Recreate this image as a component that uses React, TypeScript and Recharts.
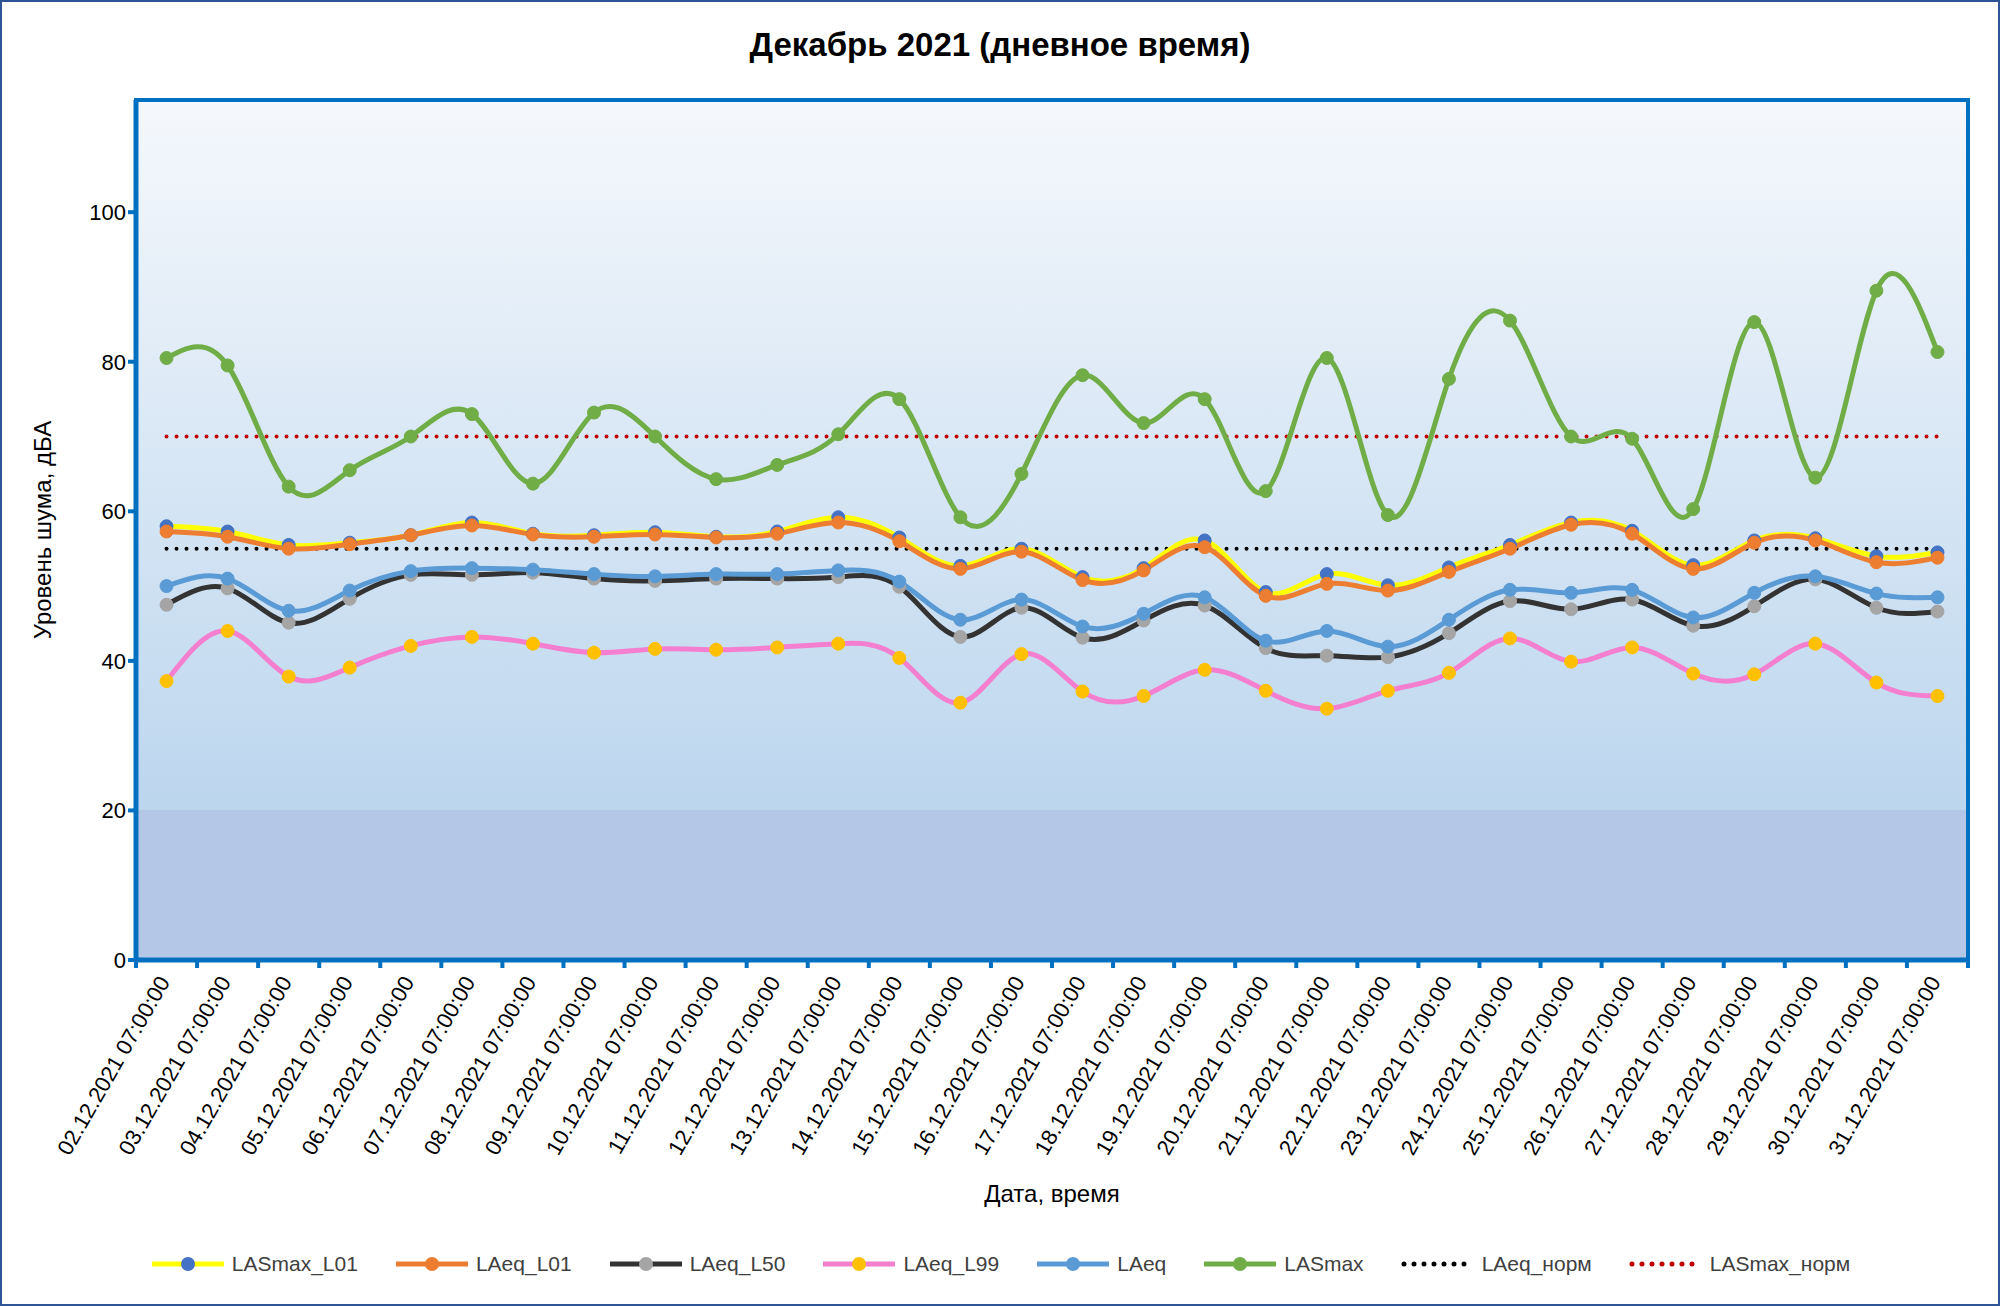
import React from "react";
import {
  ComposedChart, Line, XAxis, YAxis, CartesianGrid, ReferenceArea, Label,
} from "recharts";

const dates = [
  "02.12.2021", "03.12.2021", "04.12.2021", "05.12.2021", "06.12.2021", "07.12.2021",
  "08.12.2021", "09.12.2021", "10.12.2021", "11.12.2021", "12.12.2021", "13.12.2021",
  "14.12.2021", "15.12.2021", "16.12.2021", "17.12.2021", "18.12.2021", "19.12.2021",
  "20.12.2021", "21.12.2021", "22.12.2021", "23.12.2021", "24.12.2021", "25.12.2021",
  "26.12.2021", "27.12.2021", "28.12.2021", "29.12.2021", "30.12.2021", "31.12.2021",
].map((d) => d + " 07:00:00");

const lasmaxL01 = [58, 57.3, 55.5, 55.8, 56.8, 58.5, 57, 56.8, 57.2, 56.6, 57.3, 59.2, 56.5, 52.7, 55, 51.2, 52.4, 56.1, 49.2, 51.6, 50.1, 52.5, 55.5, 58.5, 57.4, 52.8, 56.1, 56.4, 54, 54.5];
const laeqL01 = [57.3, 56.6, 55, 55.6, 56.8, 58.1, 56.9, 56.6, 56.9, 56.5, 57, 58.5, 56, 52.3, 54.6, 50.8, 52.1, 55.2, 48.7, 50.3, 49.4, 51.9, 55, 58.2, 57, 52.3, 55.8, 56.1, 53.2, 53.8];
const laeqL50 = [47.5, 49.7, 45.1, 48.3, 51.5, 51.5, 51.8, 51, 50.7, 51, 51, 51.2, 49.9, 43.2, 47.1, 43.1, 45.4, 47.4, 41.7, 40.7, 40.5, 43.7, 48, 46.9, 48.2, 44.7, 47.3, 50.9, 47.1, 46.6];
const laeqL99 = [37.3, 44, 37.9, 39.1, 42, 43.2, 42.3, 41.1, 41.6, 41.5, 41.8, 42.3, 40.4, 34.4, 40.9, 35.9, 35.3, 38.8, 36, 33.6, 36, 38.4, 43, 39.9, 41.8, 38.3, 38.2, 42.3, 37.1, 35.3];
const laeq = [50, 51, 46.7, 49.4, 52, 52.4, 52.2, 51.6, 51.3, 51.6, 51.6, 52.1, 50.6, 45.5, 48.2, 44.6, 46.3, 48.5, 42.7, 44, 41.9, 45.5, 49.5, 49.1, 49.5, 45.8, 49.1, 51.3, 49, 48.5];
const lasmax = [80.5, 79.5, 63.3, 65.5, 70, 73, 63.7, 73.2, 70, 64.3, 66.2, 70.3, 75, 59.2, 65, 78.2, 71.8, 75, 62.7, 80.5, 59.5, 77.7, 85.5, 70, 69.7, 60.3, 85.3, 64.5, 89.5, 81.3];
const laeqNorm = 55;
const lasmaxNorm = 70;

const data = dates.map((d, i) => ({
  x: i + 1,
  lasmaxL01: lasmaxL01[i],
  laeqL01: laeqL01[i],
  laeqL50: laeqL50[i],
  laeqL99: laeqL99[i],
  laeq: laeq[i],
  lasmax: lasmax[i],
  laeqNorm,
  lasmaxNorm,
}));

const boundaryTicks = Array.from({ length: 31 }, (_, i) => i + 0.5);
const yTicks = [0, 20, 40, 60, 80, 100];

const W = 2000;
const H = 1306;
const PLOT_L = 136;
const PLOT_R = 1968;
const PLOT_T = 100;
const PLOT_B = 960;
const STEP = (PLOT_R - PLOT_L) / 30;
const FONT = "'Liberation Sans', Arial, sans-serif";

const series = [
  { key: "lasmaxL01", name: "LASmax_L01", line: "#ffff00", dot: "#4472c4" },
  { key: "laeqL01", name: "LAeq_L01", line: "#ed7d31", dot: "#ed7d31" },
  { key: "laeqL50", name: "LAeq_L50", line: "#333333", dot: "#a5a5a5" },
  { key: "laeqL99", name: "LAeq_L99", line: "#f47fcf", dot: "#ffc000" },
  { key: "laeq", name: "LAeq", line: "#5b9bd5", dot: "#5b9bd5" },
  { key: "lasmax", name: "LASmax", line: "#70ad47", dot: "#70ad47" },
];

const DateTick = (props: any) => {
  const { x, y, payload } = props;
  const idx = Math.round(payload.value + 0.5) - 1;
  if (idx < 0 || idx >= dates.length) return null;
  const cx = x + STEP / 2 + 4;
  return (
    <text x={cx} y={y + 12} textAnchor="end" fontSize={22} fill="#000" fontFamily={FONT}
      transform={`rotate(-60 ${cx} ${y + 12})`}>
      {dates[idx]}
    </text>
  );
};

const LegendItem = ({ s }: any) => (
  <div style={{ display: "flex", alignItems: "center", gap: 6 }}>
    <svg width={76} height={20}>
      <line x1={2} y1={10} x2={74} y2={10} stroke={s.line} strokeWidth={5} />
      <circle cx={38} cy={10} r={7} fill={s.dot} />
    </svg>
    <span>{s.name}</span>
  </div>
);

const DotLegend = ({ color, name }: any) => (
  <div style={{ display: "flex", alignItems: "center", gap: 6 }}>
    <svg width={76} height={20}>
      <line x1={4} y1={10} x2={72} y2={10} stroke={color} strokeWidth={5}
        strokeDasharray="0 10" strokeLinecap="round" />
    </svg>
    <span>{name}</span>
  </div>
);

export default function App() {
  return (
    <div style={{ position: "absolute", left: 0, top: 0, width: W, height: H, background: "#fff",
      border: "2px solid #2f5597", boxSizing: "border-box", fontFamily: FONT }}>
      <div style={{ position: "absolute", top: 24, width: "100%", textAlign: "center",
        fontSize: 33, fontWeight: "bold" }}>
        Декабрь 2021 (дневное время)
      </div>
      <div style={{ position: "absolute", top: 0, left: 0 }}>
        <ComposedChart width={W - 4} height={H - 4} data={data}
          margin={{ top: PLOT_T - 2, right: W - PLOT_R - 2, bottom: 0, left: 0 }}>
          <defs>
            <linearGradient id="bg" x1="0" y1="0" x2="0" y2="1">
              <stop offset="0" stopColor="#f5f8fc" />
              <stop offset="0.826" stopColor="#bcd6ee" />
              <stop offset="0.826" stopColor="#b4c7e7" />
              <stop offset="1" stopColor="#b4c7e7" />
            </linearGradient>
          </defs>
          <ReferenceArea x1={0.5} x2={30.5} y1={0} y2={115} fill="url(#bg)" fillOpacity={1}
            stroke="none" ifOverflow="extendDomain" />
          <CartesianGrid horizontal={false} stroke="#ffffff" strokeWidth={2} />
          <XAxis dataKey="x" type="number" domain={[0.5, 30.5]} ticks={boundaryTicks}
            interval={0} height={H - 4 - (PLOT_B - 2)} stroke="#0070c0" strokeWidth={5}
            tickLine={{ stroke: "#0070c0", strokeWidth: 4 }} tickSize={8} tick={<DateTick />}>
            <Label value="Дата, время" position="insideTop" offset={225} fontSize={24}
              fill="#000" fontFamily={FONT} />
          </XAxis>
          <YAxis domain={[0, 115]} ticks={yTicks} width={PLOT_L - 2} stroke="#0070c0"
            strokeWidth={5} tickLine={{ stroke: "#0070c0", strokeWidth: 4 }} tickSize={8}
            tick={{ fontSize: 22, fill: "#000", fontFamily: FONT }} allowDataOverflow>
            <Label value="Уровень шума, дБА" angle={-90} position="insideLeft" offset={40}
              fontSize={24} fill="#000" fontFamily={FONT} style={{ textAnchor: "middle" }} />
          </YAxis>
          {yTicks.slice(1).map((v) => (
            <ReferenceArea key={v} y1={v} y2={v} stroke="#d9d9d9" strokeWidth={1.5} />
          ))}
          <Line dataKey="lasmaxNorm" stroke="#c00000" strokeWidth={4} strokeDasharray="0 10"
            strokeLinecap="round" dot={false} isAnimationActive={false} />
          <Line dataKey="laeqNorm" stroke="#000000" strokeWidth={4} strokeDasharray="0 10"
            strokeLinecap="round" dot={false} isAnimationActive={false} />
          {series.map((s) => (
            <Line key={s.key} dataKey={s.key} type="natural" stroke={s.line} strokeWidth={5}
              dot={{ r: 6.5, fill: s.dot, stroke: s.dot, strokeWidth: 1 }}
              isAnimationActive={false} />
          ))}
          <ReferenceArea x1={0.5} x2={30.5} y1={0} y2={115} fill="none" stroke="#0070c0"
            strokeWidth={4} />
        </ComposedChart>
      </div>
      <div style={{ position: "absolute", top: 1250, left: 0, width: "100%", display: "flex",
        justifyContent: "center", gap: 36, fontSize: 21, color: "#404040" }}>
        {series.map((s) => <LegendItem key={s.key} s={s} />)}
        <DotLegend color="#000000" name="LAeq_норм" />
        <DotLegend color="#c00000" name="LASmax_норм" />
      </div>
    </div>
  );
}
